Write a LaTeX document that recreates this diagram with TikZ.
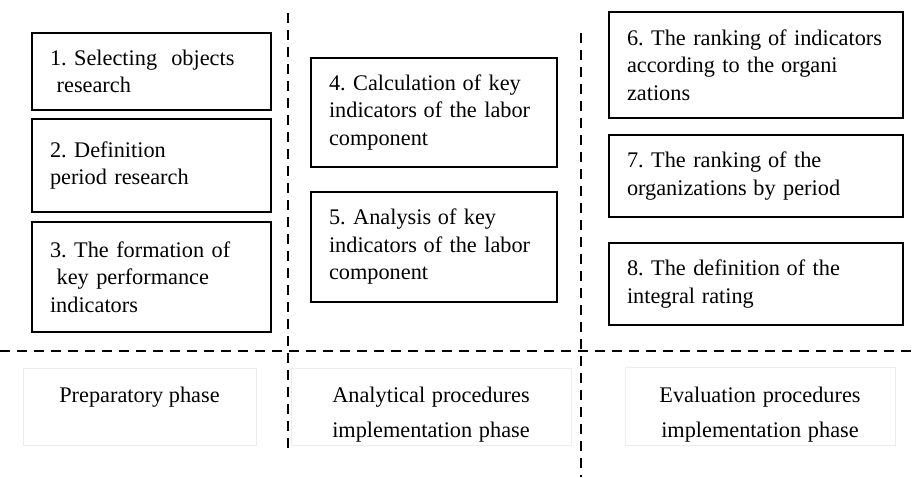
\documentclass[tikz,border=0pt]{standalone}
\usepackage{fontspec}
\setmainfont{Liberation Serif}
% wider word gap used in a few labels
\newcommand{\wsp}{\hspace{0.3em}}
\newcommand{\ind}{\hspace*{0.3em}}
\begin{document}
\frenchspacing
\begin{tikzpicture}[x=1pt,y=-1pt,
  stagebox/.style={draw=black, line width=1.8pt, inner xsep=18pt, inner ysep=0pt,
    align=left, font=\fontsize{22.3}{27.5}\selectfont},
  phasebox/.style={draw=black!7, line width=0.8pt},
  phaselabel/.style={align=center, inner sep=0pt, anchor=north,
    font=\fontsize{22.3}{35}\selectfont},
  divider/.style={draw=black, line width=2pt, dash pattern=on 10pt off 7pt}]
\useasboundingbox (0,0) rectangle (918,477);

% phase dividers
\coordinate (vLtop) at (287.5,13);
\coordinate (vLbot) at (287.5,449);
\coordinate (vRtop) at (581,33);
\coordinate (vRbot) at (581,477);
\coordinate (hL) at (0,350.5);
\coordinate (hR) at (918,350.5);
\draw[divider] (vLtop) -- (vLbot);
\draw[divider] (vRtop) -- (vRbot);
\draw[divider] (hL) -- (hR);

% preparatory phase steps
\node[stagebox, text width=203pt, minimum height=77pt] (s1) at (151.5,71.5)
  {1. Selecting\wsp\ objects\\\ind research};
\node[stagebox, text width=203pt, minimum height=93pt] (s2) at (151.5,165.5)
  {2. Definition\\period research};
\node[stagebox, text width=203pt, minimum height=110pt] (s3) at (151.5,277)
  {3. The formation of\\\ind key performance\\indicators};

% analytical phase steps
\node[stagebox, text width=210pt, minimum height=109pt] (s4) at (434,112.5)
  {4. Calculation\wsp of key\\indicators\wsp of the labor\\component};
\node[stagebox, text width=210pt, minimum height=110pt] (s5) at (434,247)
  {5. Analysis\wsp of key\\indicators\wsp of the labor\\component};

% evaluation phase steps
\node[stagebox, text width=258pt, minimum height=106pt] (s6) at (756,65)
  {6. The ranking\wsp of indicators\\according to the\wsp organi\\zations};
\node[stagebox, text width=258pt, minimum height=82pt] (s7) at (756,176)
  {7. The ranking\wsp of the\\organizations\wsp by period};
\node[stagebox, text width=258pt, minimum height=82pt] (s8) at (756,284)
  {8. The definition\wsp of the\\integral\wsp rating};

% phase captions
\node[phasebox, minimum width=233pt, minimum height=77pt] (p1) at (139.5,406.5) {};
\node[phasebox, minimum width=280pt, minimum height=77pt] (p2) at (431,406.5) {};
\node[phasebox, minimum width=270pt, minimum height=78pt] (p3) at (760,406) {};
\node[phaselabel] (t1) at (139.5,387) {Preparatory phase};
\node[phaselabel] (t2) at (431,387) {Analytical\wsp procedures\\implementation\wsp phase};
\node[phaselabel] (t3) at (760,387) {Evaluation\wsp procedures\\implementation\wsp phase};
\end{tikzpicture}
\end{document}
